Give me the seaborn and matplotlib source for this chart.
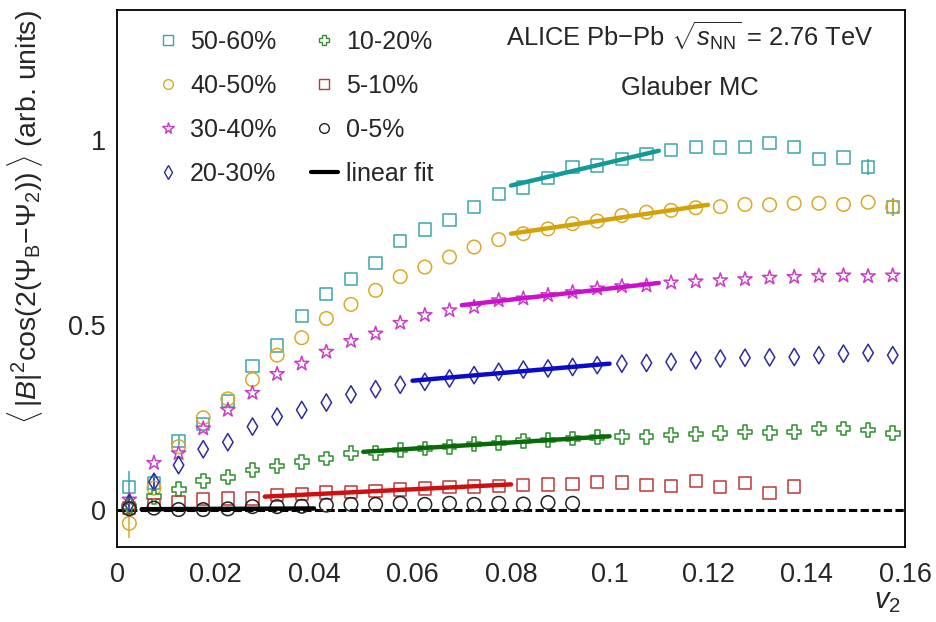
import numpy as np
import pandas as pd
import matplotlib
matplotlib.use("Agg")
import matplotlib.pyplot as plt
from matplotlib.lines import Line2D
from matplotlib.ticker import MultipleLocator, FixedLocator, FuncFormatter
import seaborn as sns

# ---- data -------------------------------------------------------------
# v2 bin centres
v2 = [0.0025, 0.0075, 0.0125, 0.0175, 0.0225, 0.0275, 0.0325, 0.0375,
      0.0425, 0.0475, 0.0525, 0.0575, 0.0625, 0.0675, 0.0725, 0.0775,
      0.0825, 0.0875, 0.0925, 0.0975, 0.1025, 0.1075, 0.1125, 0.1175,
      0.1225, 0.1275, 0.1325, 0.1375, 0.1425, 0.1475, 0.1525, 0.1575]

c50_60 = [0.061, 0.072, 0.187, 0.232, 0.295, 0.388, 0.444, 0.524,
          0.584, 0.624, 0.667, 0.726, 0.757, 0.782, 0.819, 0.853,
          0.871, 0.897, 0.927, 0.930, 0.948, 0.961, 0.972, 0.981,
          0.979, 0.981, 0.990, 0.981, 0.948, 0.952, 0.927, 0.818]
c40_50 = [-0.036, 0.059, 0.171, 0.249, 0.300, 0.352, 0.418, 0.465,
          0.517, 0.555, 0.593, 0.630, 0.656, 0.683, 0.710, 0.730,
          0.746, 0.759, 0.773, 0.780, 0.795, 0.804, 0.809, 0.816,
          0.819, 0.825, 0.824, 0.828, 0.828, 0.825, 0.831, 0.818]
c30_40 = [0.028, 0.127, 0.153, 0.220, 0.270, 0.316, 0.367, 0.395,
          0.427, 0.456, 0.476, 0.505, 0.526, 0.539, 0.548, 0.566,
          0.571, 0.580, 0.588, 0.598, 0.604, 0.606, 0.614, 0.617,
          0.620, 0.623, 0.627, 0.629, 0.632, 0.633, 0.631, 0.633]
c20_30 = [0.018, 0.076, 0.121, 0.164, 0.183, 0.225, 0.252, 0.270,
          0.290, 0.312, 0.326, 0.338, 0.346, 0.355, 0.364, 0.373,
          0.379, 0.382, 0.386, 0.391, 0.395, 0.397, 0.400, 0.404,
          0.409, 0.411, 0.412, 0.413, 0.418, 0.422, 0.424, 0.418]
c10_20 = [0.010, 0.036, 0.056, 0.079, 0.088, 0.108, 0.119, 0.130,
          0.139, 0.153, 0.154, 0.162, 0.166, 0.171, 0.178, 0.181,
          0.187, 0.189, 0.193, 0.196, 0.198, 0.198, 0.202, 0.205,
          0.207, 0.211, 0.209, 0.211, 0.220, 0.220, 0.216, 0.207]
c5_10 = [0.005, 0.013, 0.022, 0.029, 0.031, 0.031, 0.040, 0.043,
         0.047, 0.049, 0.052, 0.055, 0.058, 0.061, 0.063, 0.065,
         0.067, 0.069, 0.070, 0.076, 0.074, 0.067, 0.064, 0.078,
         0.061, 0.072, 0.045, 0.063]
c0_5 = [0.003, 0.005, 0.001, 0.001, 0.003, 0.009, 0.009, 0.010,
        0.013, 0.015, 0.015, 0.018, 0.015, 0.018, 0.015, 0.018,
        0.016, 0.020, 0.018]

# statistical errors visible beyond the markers (bin index -> error)
err_50_60 = {0: 0.045, 1: 0.02, 2: 0.012, 30: 0.022, 31: 0.025}
err_40_50 = {0: 0.04, 31: 0.02}
err_30_40 = {0: 0.02}
err_20_30 = {0: 0.02, 1: 0.02}

# linear fits: (v2 start, v2 end, value at start, value at end)
fit_50_60 = (0.08, 0.11, 0.876, 0.970)
fit_40_50 = (0.08, 0.12, 0.746, 0.824)
fit_30_40 = (0.07, 0.11, 0.553, 0.613)
fit_20_30 = (0.06, 0.10, 0.349, 0.395)
fit_10_20 = (0.05, 0.10, 0.157, 0.199)
fit_5_10 = (0.03, 0.08, 0.036, 0.069)
fit_0_5 = (0.005, 0.04, 0.002, 0.004)

labels = ["50-60%", "40-50%", "30-40%", "20-30%",
          "10-20%", "5-10%", "0-5%"]
xticks = [0, 0.02, 0.04, 0.06, 0.08, 0.1, 0.12, 0.14, 0.16]
yticks = [0, 0.5, 1]

# ---- style ------------------------------------------------------------
sns.set_theme(style="white")
plt.rcParams["font.family"] = ["Liberation Sans", "DejaVu Sans"]
plt.rcParams["mathtext.fontset"] = "custom"
plt.rcParams["mathtext.rm"] = "Liberation Sans"
plt.rcParams["mathtext.it"] = "Liberation Sans:italic"
plt.rcParams["mathtext.bf"] = "Liberation Sans:bold"
plt.rcParams["axes.edgecolor"] = "black"
plt.rcParams["axes.linewidth"] = 1.3

series = [
    (c50_60, err_50_60, fit_50_60, "s", 78, "#3aa5a8", "#13999a"),
    (c40_50, err_40_50, fit_40_50, "o", 95, "#d8aa2a", "#d4a106"),
    (c30_40, err_30_40, fit_30_40, "*", 115, "#c83cc8", "#cc11cc"),
    (c20_30, err_20_30, fit_20_30, "d", 78, "#2c2ca0", "#0b0bcc"),
    (c10_20, {}, fit_10_20, "P", 100, "#2f8f2f", "#0a6a0a"),
    (c5_10, {}, fit_5_10, "s", 78, "#c03636", "#d01010"),
    (c0_5, {}, fit_0_5, "o", 95, "#222222", "#000000"),
]

fig = plt.figure(figsize=(9.37, 6.22), dpi=100)
ax = fig.add_axes([0.1249, 0.1206, 0.8410, 0.8633])

# zero reference
ax.axhline(0, color="black", lw=2.2, dashes=(2.7, 1.1), zorder=1)

handles = []
for (vals, errs, fit, mk, size, col, fcol), lab in zip(series, labels):
    x = v2[:len(vals)]
    df = pd.DataFrame({"v2": x, "val": vals})
    if errs:
        idx = sorted(errs)
        ax.errorbar([x[i] for i in idx], [vals[i] for i in idx],
                    yerr=[errs[i] for i in idx], fmt="none",
                    ecolor=col, elinewidth=1.1, capsize=0, zorder=2)
    sns.scatterplot(data=df, x="v2", y="val", marker=mk, s=size,
                    facecolor="none", edgecolor=col, linewidth=1.1,
                    ax=ax, zorder=3, legend=False)
    fdf = pd.DataFrame({"v2": [fit[0], fit[1]], "val": [fit[2], fit[3]]})
    sns.lineplot(data=fdf, x="v2", y="val", color=fcol, lw=3.2,
                 ax=ax, zorder=4, legend=False)
    handles.append(Line2D([], [], ls="none", marker=mk,
                          markersize=7 if mk != "*" else 8.5,
                          mfc="none", mec=col, mew=1.0, label=lab))

handles.append(Line2D([], [], color="black", lw=3, label="linear fit"))

leg = ax.legend(handles=handles, ncol=2, loc="upper left",
                bbox_to_anchor=(0.019, 1.005), frameon=False,
                fontsize=18, handlelength=1.1, handletextpad=0.32,
                labelspacing=0.80, columnspacing=1.36, borderpad=0.4)

# ---- axes -------------------------------------------------------------
ax.set_xlim(0, 0.16)
ax.set_ylim(-0.1, 1.35)
ax.xaxis.set_major_locator(FixedLocator(xticks))
ax.xaxis.set_minor_locator(MultipleLocator(0.005))
ax.yaxis.set_major_locator(FixedLocator(yticks))
ax.yaxis.set_minor_locator(MultipleLocator(0.1))
fmt = FuncFormatter(lambda v, p: "%g" % round(v, 4))
ax.xaxis.set_major_formatter(fmt)
ax.yaxis.set_major_formatter(fmt)
ax.tick_params(which="both", direction="in", top=False, right=False,
               color="black", width=1.1)
ax.tick_params(axis="x", which="major", length=13, pad=11, labelsize=19.5)
ax.tick_params(axis="x", which="minor", length=7)
ax.tick_params(axis="y", which="major", length=18, pad=8, labelsize=19.5)
ax.tick_params(axis="y", which="minor", length=9)
for s in ax.spines.values():
    s.set_visible(True)
    s.set_color("black")

ax.set_xlabel(r"$v_{2}$", fontsize=21, loc="right")
ax.xaxis.set_label_coords(0.994, -0.075)
ax.set_ylabel(r"$\langle\,|B|^{2}\mathrm{cos}(2(\Psi_{\mathrm{B}}\mathrm{-}\Psi_{2}))\,\rangle$ (arb. units)",
              fontsize=20.5, loc="top")
ax.yaxis.set_label_coords(-0.091, 1.0)

ax.text(0.727, 0.950, "ALICE Pb\u2212Pb $\\sqrt{s_{\\mathrm{NN}}}$ = 2.76 TeV",
        transform=ax.transAxes, ha="center", va="center", fontsize=18.4)
ax.text(0.727, 0.855, "Glauber MC", transform=ax.transAxes,
        ha="center", va="center", fontsize=18.4)

fig.savefig("out.png", dpi=100)
